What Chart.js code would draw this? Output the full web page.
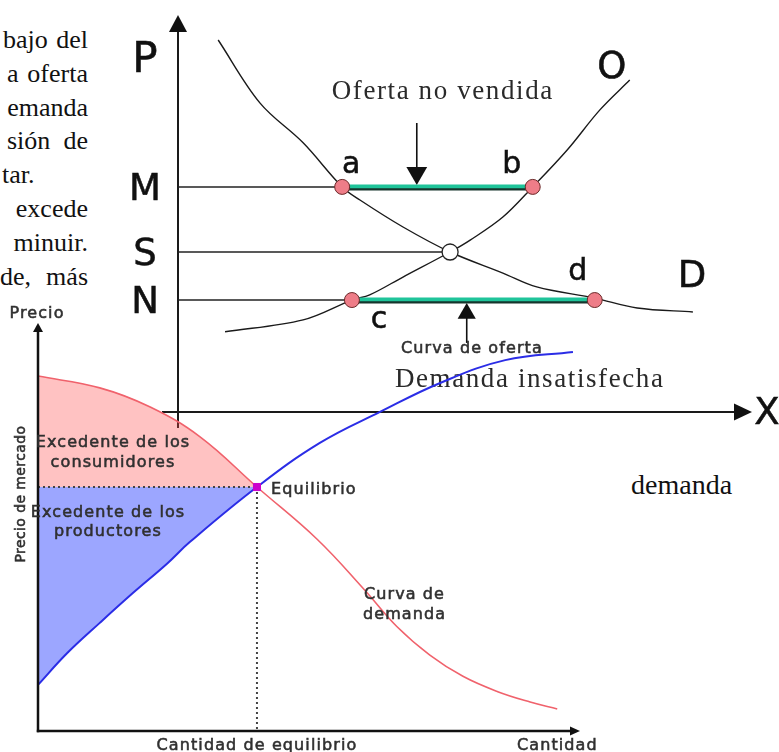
<!DOCTYPE html>
<html>
<head>
<meta charset="utf-8">
<script src="https://cdn.jsdelivr.net/npm/chart.js@4.4.0/dist/chart.umd.min.js"></script>
<style>
html,body{margin:0;padding:0;background:#fff;width:779px;height:752px;overflow:hidden;}
#wrap{position:relative;width:779px;height:752px;}
.layer{position:absolute;left:0;top:0;width:779px;height:752px;}
.t{position:absolute;font-family:"Liberation Serif","Times New Roman",serif;font-size:26px;line-height:26px;color:#111;white-space:nowrap;}
</style>
</head>
<body>
<div id="wrap">
  <div id="bodytext" class="layer"></div>
  <div class="layer"><canvas id="topChart" width="779" height="752"></canvas></div>
  <div class="layer"><canvas id="botChart" width="779" height="752"></canvas></div>
</div>
<script>
// ---------- DATA ----------
// Upper diagram: price (P) vs quantity (X), both 0..100
const topDemandQ = [7.0, 14.3, 21.8, 28.6, 31.7, 39.2, 47.4, 56.6, 62.5, 72.6, 80.0, 89.7];
const topDemandP = [93.7, 77.8, 67.8, 56.7, 53.4, 46.6, 40.3, 35.0, 31.5, 28.7, 26.2, 25.2];
const topSupplyQ = [8.2, 21.8, 30.3, 33.4, 39.2, 47.4, 50.9, 56.6, 61.8, 67.8, 73.5, 78.7];
const topSupplyP = [20.2, 23.2, 28.2, 29.5, 34.0, 40.3, 43.3, 49.1, 56.7, 66.0, 76.1, 83.6];
const priceLabels = ['M', 'S', 'N'];
const priceLevels = [56.7, 40.3, 28.2];
const gapLabels = ['a', 'b', 'c', 'd'];
const gapQ = [28.6, 61.8, 30.3, 72.6];
const gapP = [56.7, 56.7, 28.2, 28.2];
const eqTopQ = 47.4;
const eqTopP = 40.3;
const arrowDownQ = 41.6, arrowDownFrom = 72.8, arrowDownTo = 60.2;
const arrowUpQ = 50.3, arrowUpFrom = 17.4, arrowUpTo = 24.8;

// Lower diagram: consumer / producer surplus, both 0..100
const botDemandQ = [0, 11.4, 20.7, 29.9, 40.4, 51.5, 60.3, 66.2, 72.3, 78.4, 84.7, 90.8, 95.8];
const botDemandP = [87.0, 84.1, 79.4, 72.1, 59.8, 47.0, 34.5, 25.6, 18.6, 13.4, 9.7, 7.1, 5.4];
const botSupplyQ = [0, 5.4, 11.4, 17.5, 23.8, 28.0, 40.4, 52.0, 63.1, 74.2, 86.2, 98.7];
const botSupplyP = [11.3, 19.1, 26.5, 33.8, 41.0, 46.3, 59.8, 70.6, 78.2, 85.3, 90.9, 92.9];
const eqBotQ = 40.4;
const eqBotP = 59.8;

// Surrounding document text
const bodyLines = ['bajo del', 'a oferta', 'emanda', 'sión de', 'tar.', 'excede', 'minuir.', 'de, más'];
const rightWord = 'demanda';

// ---------- helpers ----------
function pts(q, p) { return q.map((v, i) => ({ x: v, y: p[i] })); }
function setText(ctx, font, color, spacing) {
  ctx.font = font; ctx.fillStyle = color; ctx.strokeStyle = color;
  if ('letterSpacing' in ctx) ctx.letterSpacing = (spacing || 0) + 'px';
}
function heavyText(ctx, s, x, y) {
  ctx.lineWidth = 0.55;
  ctx.fillText(s, x, y);
  ctx.strokeText(s, x, y);
}
function arrowHead(ctx, x, y, dir, len, half) {
  ctx.beginPath();
  if (dir === 'up') { ctx.moveTo(x, y); ctx.lineTo(x - half, y + len); ctx.lineTo(x + half, y + len); }
  else { ctx.moveTo(x, y); ctx.lineTo(x - len, y - half); ctx.lineTo(x - len, y + half); }
  ctx.closePath(); ctx.fill();
}
const scalesCfg = {
  x: { type: 'linear', min: 0, max: 100, display: false },
  y: { type: 'linear', min: 0, max: 100, display: false }
};

// ---------- body text ----------
(function () {
  const host = document.getElementById('bodytext');
  const lineLeft = [3, 7, 0, 7, 2, 0, 0, 0];
  const lineMode = ['j', 'j', 'r', 'j', 'l', 'r', 'r', 'j'];
  const rightEdge = 88;
  bodyLines.forEach((s, i) => {
    const d = document.createElement('div');
    d.className = 't';
    const base = 49 + 33.8 * i;
    d.style.top = (base - 22) + 'px';
    d.style.left = lineLeft[i] + 'px';
    if (lineMode[i] === 'l') {
      d.textContent = s;
    } else {
      d.style.width = (rightEdge - lineLeft[i]) + 'px';
      d.style.whiteSpace = 'normal';
      d.style.textAlign = lineMode[i] === 'j' ? 'justify' : 'right';
      d.style.textAlignLast = lineMode[i] === 'j' ? 'justify' : 'right';
      d.textContent = s;
    }
    host.appendChild(d);
  });
  const r = document.createElement('div');
  r.className = 't';
  r.style.left = '631px';
  r.style.fontSize = '28px';
  r.style.top = (496 - 24) + 'px';
  r.textContent = rightWord;
  host.appendChild(r);
})();

// ---------- upper chart ----------
const topDecor = {
  id: 'topDecor',
  beforeDatasetsDraw(chart) {
    const { ctx, scales: { x, y } } = chart;
    const x0 = x.getPixelForValue(0), y0 = y.getPixelForValue(0);
    const xT = x.getPixelForValue(100), yT = y.getPixelForValue(100);
    ctx.save();
    ctx.strokeStyle = '#1a1a1a'; ctx.fillStyle = '#111'; ctx.lineWidth = 2;
    ctx.beginPath(); ctx.moveTo(x0, yT + 12); ctx.lineTo(x0, y0 + 16); ctx.stroke();
    ctx.beginPath(); ctx.moveTo(x0 - 16, y0); ctx.lineTo(xT - 12, y0); ctx.stroke();
    arrowHead(ctx, x0, yT, 'up', 17, 9);
    arrowHead(ctx, xT, y0, 'right', 18, 8.5);
    ctx.restore();
  },
  afterDatasetDraw(chart, args) {
    const ds = chart.data.datasets[args.index];
    if (!ds.gapBar) return;
    const meta = chart.getDatasetMeta(args.index);
    const p0 = meta.data[0], p1 = meta.data[1];
    const ctx = chart.ctx;
    ctx.save();
    ctx.strokeStyle = '#16352c'; ctx.lineWidth = 2.2;
    ctx.beginPath(); ctx.moveTo(p0.x, p0.y + 2.4); ctx.lineTo(p1.x, p1.y + 2.4); ctx.stroke();
    ctx.restore();
  },
  afterDatasetsDraw(chart) {
    const { ctx, scales: { x, y } } = chart;
    const X = v => x.getPixelForValue(v), Y = v => y.getPixelForValue(v);
    const x0 = X(0), y0 = Y(0), xT = X(100), yT = Y(100);
    ctx.save();
    ctx.textAlign = 'center'; ctx.textBaseline = 'alphabetic';
    setText(ctx, '42px "DejaVu Sans"', '#111', 0);
    heavyText(ctx, 'P', x0 - 33, yT + 57);
    setText(ctx, '37px "DejaVu Sans"', '#111', 0);
    priceLabels.forEach((s, i) => heavyText(ctx, s, x0 - 33, Y(priceLevels[i]) + 13));
    heavyText(ctx, 'X', xT + 15, y0 + 12);
    const n = topSupplyQ.length - 1, m = topDemandQ.length - 1;
    heavyText(ctx, 'O', X(topSupplyQ[n]) - 18, Y(topSupplyP[n]) - 2);
    heavyText(ctx, 'D', X(topDemandQ[m]) - 1, Y(topDemandP[m]) - 25);
    setText(ctx, '30px "DejaVu Sans"', '#111', 0);
    const ldx = [9, -21, 27, -17], ldy = [-14, -14, 28, -20];
    gapLabels.forEach((s, i) => heavyText(ctx, s, X(gapQ[i]) + ldx[i], Y(gapP[i]) + ldy[i]));
    setText(ctx, '27px "Liberation Serif"', '#2a2a2a', 1.6);
    ctx.fillText('Oferta no vendida', X(arrowDownQ) + 26, Y(arrowDownFrom) - 24);
    ctx.fillText('Demanda insatisfecha', X(arrowUpQ) + 63, Y(arrowUpFrom) + 44);
    ctx.restore();
  }
};

new Chart(document.getElementById('topChart'), {
  type: 'scatter',
  data: {
    datasets: [
      { label: 'gap points', data: pts(gapQ, gapP), showLine: false, pointRadius: 7.5,
        pointBackgroundColor: '#ee7d88', pointBorderColor: '#6b2a2a', pointBorderWidth: 1, order: 0 },
      { label: 'equilibrium', data: [{ x: eqTopQ, y: eqTopP }], showLine: false, pointRadius: 8,
        pointBackgroundColor: '#ffffff', pointBorderColor: '#222', pointBorderWidth: 1.3, order: 0 },
      { label: 'oferta no vendida', gapBar: true, data: [{ x: gapQ[0], y: gapP[0] }, { x: gapQ[1], y: gapP[1] }],
        showLine: true, borderColor: '#1fc49a', borderWidth: 5, pointRadius: 0, order: 1 },
      { label: 'demanda insatisfecha', gapBar: true, data: [{ x: gapQ[2], y: gapP[2] }, { x: gapQ[3], y: gapP[3] }],
        showLine: true, borderColor: '#1fc49a', borderWidth: 5, pointRadius: 0, order: 1 },
      { label: 'arrow down', data: [{ x: arrowDownQ, y: arrowDownFrom }, { x: arrowDownQ, y: arrowDownTo }],
        showLine: true, borderColor: '#111', borderWidth: 1.6, pointRadius: [0, 12], pointStyle: 'triangle',
        rotation: 180, pointBackgroundColor: '#111', pointBorderWidth: 0, order: 1 },
      { label: 'arrow up', data: [{ x: arrowUpQ, y: arrowUpFrom }, { x: arrowUpQ, y: arrowUpTo }],
        showLine: true, borderColor: '#111', borderWidth: 1.6, pointRadius: [0, 10.5], pointStyle: 'triangle',
        rotation: 0, pointBackgroundColor: '#111', pointBorderWidth: 0, order: 1 },
      { label: 'M', data: [{ x: 0, y: priceLevels[0] }, { x: gapQ[0], y: priceLevels[0] }],
        showLine: true, borderColor: '#222', borderWidth: 1.5, pointRadius: 0, order: 2 },
      { label: 'S', data: [{ x: 0, y: priceLevels[1] }, { x: eqTopQ, y: priceLevels[1] }],
        showLine: true, borderColor: '#222', borderWidth: 1.5, pointRadius: 0, order: 2 },
      { label: 'N', data: [{ x: 0, y: priceLevels[2] }, { x: gapQ[2], y: priceLevels[2] }],
        showLine: true, borderColor: '#222', borderWidth: 1.5, pointRadius: 0, order: 2 },
      { label: 'D', data: pts(topDemandQ, topDemandP), showLine: true, borderColor: '#1a1a1a',
        borderWidth: 1.4, pointRadius: 0, tension: 0.35, order: 3 },
      { label: 'O', data: pts(topSupplyQ, topSupplyP), showLine: true, borderColor: '#1a1a1a',
        borderWidth: 1.4, pointRadius: 0, tension: 0.35, order: 3 }
    ]
  },
  options: {
    responsive: false, animation: false, events: [],
    layout: { padding: { left: 178, right: 27, top: 15, bottom: 340 } },
    scales: scalesCfg,
    plugins: { legend: { display: false }, tooltip: { enabled: false } }
  },
  plugins: [topDecor]
});

// ---------- lower chart ----------
const pink = 'rgba(255,70,70,0.33)';
const lilac = 'rgba(45,65,255,0.47)';
const eqDemIdx = botDemandQ.indexOf(eqBotQ);
const eqSupIdx = botSupplyQ.indexOf(eqBotQ);

const botDecor = {
  id: 'botDecor',
  afterDatasetsDraw(chart) {
    const { ctx, scales: { x, y } } = chart;
    const X = v => x.getPixelForValue(v), Y = v => y.getPixelForValue(v);
    const x0 = X(0), y0 = Y(0), xT = X(100), yT = Y(100);
    ctx.save();
    ctx.strokeStyle = '#111'; ctx.fillStyle = '#111'; ctx.lineWidth = 2.5;
    ctx.beginPath(); ctx.moveTo(x0, yT + 6); ctx.lineTo(x0, y0 + 1.2); ctx.stroke();
    ctx.beginPath(); ctx.moveTo(x0 - 1.2, y0); ctx.lineTo(xT - 6, y0); ctx.stroke();
    arrowHead(ctx, x0, yT, 'up', 9, 5);
    arrowHead(ctx, xT, y0, 'right', 10, 4.5);

    ctx.textBaseline = 'alphabetic';
    const ex = X(eqBotQ), ey = Y(eqBotP);
    setText(ctx, '16px "DejaVu Sans"', '#303030', 1.1);
    ctx.textAlign = 'center';
    heavyText(ctx, 'Precio', x0 - 1, yT - 5);
    heavyText(ctx, 'Excedente de los', x0 + 75, ey - 40);
    heavyText(ctx, 'consumidores', x0 + 75, ey - 20);
    heavyText(ctx, 'Excedente de los', x0 + 70, ey + 30);
    heavyText(ctx, 'productores', x0 + 70, ey + 49);
    heavyText(ctx, 'Cantidad de equilibrio', ex, y0 + 19);
    const sn = botSupplyQ.length - 1;
    heavyText(ctx, 'Curva de oferta', X(botSupplyQ[sn]) - 101, Y(botSupplyP[sn]) + 1);
    ctx.textAlign = 'left';
    heavyText(ctx, 'Equilibrio', ex + 14, ey + 7);
    heavyText(ctx, 'Curva de', ex + 107, ey + 112);
    heavyText(ctx, 'demanda', ex + 106, ey + 132);
    heavyText(ctx, 'Cantidad', xT - 63, y0 + 19);
    // rotated axis title
    ctx.save();
    ctx.translate(x0 - 18, ey + 7);
    ctx.rotate(-Math.PI / 2);
    ctx.textAlign = 'center';
    setText(ctx, '14px "DejaVu Sans"', '#303030', 0.4);
    heavyText(ctx, 'Precio de mercado', 0, 5);
    ctx.restore();
    ctx.restore();
  }
};

new Chart(document.getElementById('botChart'), {
  type: 'scatter',
  data: {
    datasets: [
      { label: 'Equilibrio', data: [{ x: eqBotQ, y: eqBotP }], showLine: false, pointStyle: 'rect',
        pointRadius: 5, pointBackgroundColor: '#cc00cc', pointBorderColor: '#cc00cc', order: 0 },
      { label: 'precio de mercado', data: [{ x: 0, y: eqBotP }, { x: eqBotQ, y: eqBotP }], showLine: true,
        borderColor: '#444', borderWidth: 2, borderDash: [2, 3], pointRadius: 0, order: 1 },
      { label: 'cantidad de equilibrio', data: [{ x: eqBotQ, y: eqBotP }, { x: eqBotQ, y: 0 }], showLine: true,
        borderColor: '#444', borderWidth: 2, borderDash: [2, 3], pointRadius: 0, order: 1 },
      { label: 'Curva de demanda', data: pts(botDemandQ, botDemandP), showLine: true, borderColor: '#f0626c',
        borderWidth: 1.6, pointRadius: 0, tension: 0.4,
        fill: { value: eqBotP }, backgroundColor: pink,
        segment: { backgroundColor: c => c.p0DataIndex < eqDemIdx ? pink : 'rgba(0,0,0,0)' }, order: 2 },
      { label: 'Curva de oferta', data: pts(botSupplyQ, botSupplyP), showLine: true, borderColor: '#2b2de6',
        borderWidth: 2, pointRadius: 0, tension: 0.4,
        fill: { value: eqBotP }, backgroundColor: lilac,
        segment: { backgroundColor: c => c.p0DataIndex < eqSupIdx ? lilac : 'rgba(0,0,0,0)' }, order: 2 }
    ]
  },
  options: {
    responsive: false, animation: false, events: [],
    layout: { padding: { left: 38, right: 199, top: 323, bottom: 21 } },
    scales: scalesCfg,
    plugins: { legend: { display: false }, tooltip: { enabled: false }, filler: { propagate: false } }
  },
  plugins: [botDecor]
});
</script>
</body>
</html>
